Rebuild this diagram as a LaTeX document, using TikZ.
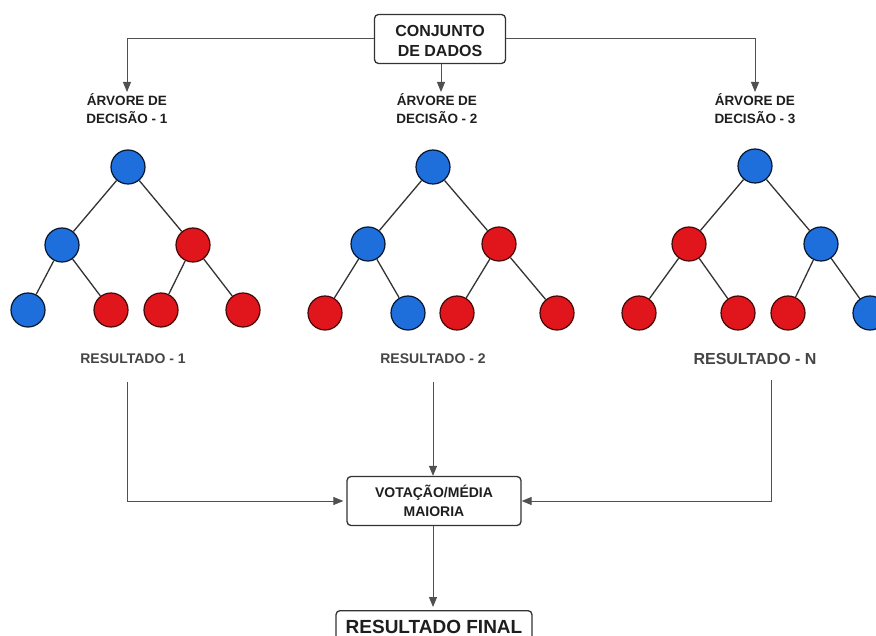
\documentclass[tikz,border=0pt]{standalone}
\usepackage{fontspec}
\setmainfont{Liberation Sans}
\usetikzlibrary{arrows.meta}
\definecolor{bl}{HTML}{1E6FDB}
\definecolor{rd}{HTML}{E0161C}
\definecolor{ln}{HTML}{505050}
\definecolor{tx}{HTML}{1E1E1E}
\definecolor{rs}{HTML}{454545}
\begin{document}
\begin{tikzpicture}[x=1pt,y=-1pt,
  bnode/.style={circle,draw=black!80!bl,line width=1.2pt,fill=bl,minimum size=34pt,inner sep=0pt},
  rnode/.style={circle,draw=black!70!rd,line width=1.2pt,fill=rd,minimum size=34pt,inner sep=0pt},
  edge/.style={draw=black!80,line width=1.3pt},
  conn/.style={draw=ln,line width=1pt},
  arr/.style={conn,-{Triangle[length=10pt,width=8pt]}},
  boxst/.style={draw=black!80,line width=1.3pt,rounded corners=4pt,fill=white,align=center,font=\bfseries,text=tx},
  lab/.style={align=center,font=\bfseries\fontsize{13.5}{18}\selectfont,text=tx},
  res/.style={font=\bfseries\fontsize{14}{16}\selectfont,text=rs}]
\useasboundingbox (0,0) rectangle (876,636);
\fill[white] (0,0) rectangle (876,636);
% top box
\node[boxst,minimum width=131pt,minimum height=49pt,inner sep=2pt,font=\bfseries\fontsize{16}{20}\selectfont] (top) at (440,39) {\raisebox{-4pt}[\height][\depth]{\begin{tabular}{@{}c@{}}CONJUNTO\\DE DADOS\end{tabular}}};
% labels
\node[lab] (d1) at (127,109) {ÁRVORE DE\\DECISÃO - 1};
\node[lab] (d2) at (437,109) {ÁRVORE DE\\DECISÃO - 2};
\node[lab] (d3) at (755,109) {ÁRVORE DE\\DECISÃO - 3};
\coordinate (e1) at (127,92);
\coordinate (e2) at (441,92);
\coordinate (e3) at (755,92);
\coordinate (s2) at (441,63);
\draw[arr] (top.west) -| (e1);
\draw[arr] (top.east) -| (e3);
\draw[arr] (top.south -| s2) -- (e2);
% tree 1
\node[bnode] (a0) at (128,167) {};
\node[bnode] (a1) at (62,245) {};
\node[rnode] (a2) at (193,245) {};
\node[bnode] (a3) at (28,310) {};
\node[rnode] (a4) at (111,310) {};
\node[rnode] (a5) at (161,310) {};
\node[rnode] (a6) at (243,310) {};
% tree 2
\node[bnode] (b0) at (433,167) {};
\node[bnode] (b1) at (368,244) {};
\node[rnode] (b2) at (499,244) {};
\node[rnode] (b3) at (325,313) {};
\node[bnode] (b4) at (408,313) {};
\node[rnode] (b5) at (457,313) {};
\node[rnode] (b6) at (557,313) {};
% tree 3
\node[bnode] (c0) at (755,166) {};
\node[rnode] (c1) at (689,244) {};
\node[bnode] (c2) at (821,244) {};
\node[rnode] (c3) at (639,313) {};
\node[rnode] (c4) at (738,313) {};
\node[rnode] (c5) at (788,313) {};
\node[bnode] (c6) at (870,313) {};
\foreach \t in {a,b,c}{
  \draw[edge] (\t0) -- (\t1);
  \draw[edge] (\t0) -- (\t2);
  \draw[edge] (\t1) -- (\t3);
  \draw[edge] (\t1) -- (\t4);
  \draw[edge] (\t2) -- (\t5);
  \draw[edge] (\t2) -- (\t6);
}
% results
\node[res] (r1) at (133,359) {RESULTADO - 1};
\node[res] (r2) at (433,359) {RESULTADO - 2};
\node[res,font=\bfseries\fontsize{16}{18}\selectfont] (r3) at (755,359) {RESULTADO - N};
% vote box
\node[boxst,minimum width=174pt,minimum height=49pt,inner sep=2pt,font=\bfseries\fontsize{14}{19}\selectfont] (vote) at (434,501) {VOTAÇÃO/MÉDIA\\MAIORIA};
\coordinate (f1) at (127,382);
\coordinate (f2) at (433,382);
\coordinate (f3) at (771,380);
\draw[arr,shorten >=3pt] (f1) |- (vote.west);
\draw[arr] (f2) -- (f2 |- vote.north);
\draw[arr] (f3) |- (vote.east);
% final
\node[boxst,minimum width=196pt,minimum height=40pt,anchor=north,font=\bfseries\fontsize{19}{22}\selectfont,text depth=10pt,text height=16pt,inner sep=3pt] (fin) at (434,610) {RESULTADO FINAL};
\draw[arr,shorten >=3pt] (vote.south -| f2) -- (fin.north -| f2);
\end{tikzpicture}
\end{document}
